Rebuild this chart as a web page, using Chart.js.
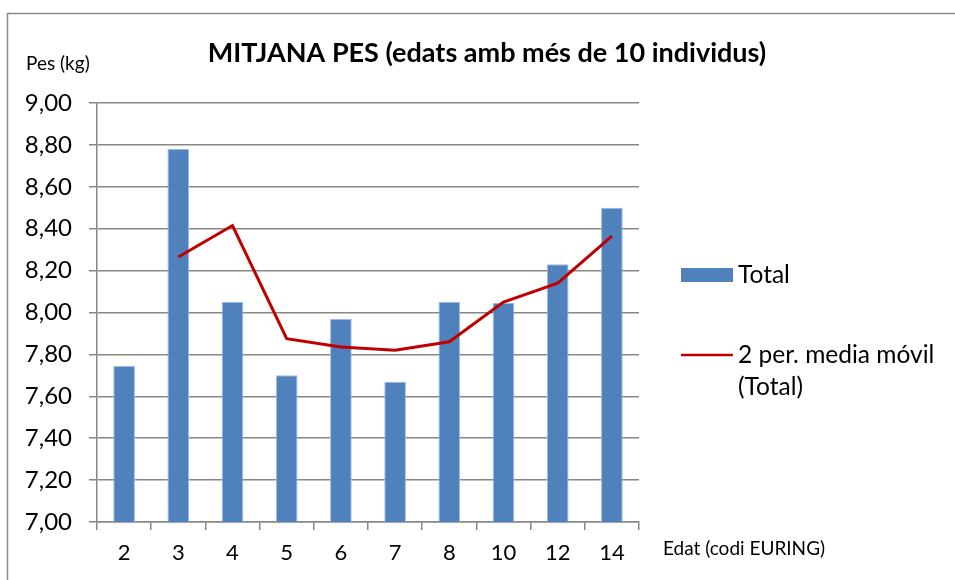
<!DOCTYPE html>
<html>
<head>
<meta charset="utf-8">
<script src="https://cdn.jsdelivr.net/npm/chart.js@4.4.1/dist/chart.umd.min.js"></script>
<style>
    html, body { margin: 0; padding: 0; background: #ffffff; }
    #wrap { width: 955px; height: 580px; position: relative; }
</style>
</head>
<body>
<div id="wrap"><canvas id="pes-chart"></canvas></div>
<script>
// Dades llegides del gràfic
const edats = ['2', '3', '4', '5', '6', '7', '8', '10', '12', '14'];
const pesTotal = [7.745, 8.78, 8.05, 7.70, 7.97, 7.67, 8.05, 8.045, 8.23, 8.50];
const mitjanaMobil = [null, 8.265, 8.415, 7.875, 7.835, 7.82, 7.86, 8.05, 8.14, 8.365];
const yTicks = [7.0, 7.2, 7.4, 7.6, 7.8, 8.0, 8.2, 8.4, 8.6, 8.8, 9.0];

const FONT = 'Lato, "Open Sans", sans-serif';
const GRID = '#878787';

/**
 * Marc, títols i llegenda a l'estil Excel
 */
const decor = {
    id: 'decor',
    beforeDraw(chart) {
        const ctx = chart.ctx;
        ctx.save();
        ctx.strokeStyle = '#8a8a8a';
        ctx.lineWidth = 1.5;
        ctx.strokeRect(7.5, 13.5, 1200, 1200);
        ctx.restore();
    },
    afterDraw(chart) {
        const ctx = chart.ctx;
        ctx.save();
        ctx.fillStyle = '#000000';
        ctx.textBaseline = 'middle';

        // títol
        ctx.font = 'bold 27px ' + FONT;
        ctx.textAlign = 'center';
        ctx.fillText('MITJANA PES (edats amb més de 10 individus)', 487, 53);

        // títols dels eixos
        ctx.font = '19px ' + FONT;
        ctx.textAlign = 'left';
        ctx.fillText('Pes (kg)', 26, 64);
        ctx.fillText('Edat (codi EURING)', 663, 549);

        // llegenda
        const rows = [275, 355];
        chart.data.datasets.forEach((ds, i) => {
            const y = rows[i];
            if (ds.type === 'line') {
                ctx.strokeStyle = ds.borderColor;
                ctx.lineWidth = 2.5;
                ctx.beginPath();
                ctx.moveTo(681, y);
                ctx.lineTo(733, y);
                ctx.stroke();
            } else {
                ctx.fillStyle = ds.backgroundColor;
                ctx.fillRect(681, y - 7, 52, 14);
            }
            ctx.fillStyle = '#000000';
            ctx.font = '24.5px ' + FONT;
            // ajust de línia simple
            const words = ds.label.split(' ');
            const lines = [];
            let cur = '';
            words.forEach(w => {
                const t = cur ? cur + ' ' + w : w;
                if (ctx.measureText(t).width > 210 && cur) {
                    lines.push(cur);
                    cur = w;
                } else {
                    cur = t;
                }
            });
            lines.push(cur);
            lines.forEach((l, k) => ctx.fillText(l, 738, y + k * 32));
        });
        ctx.restore();
    }
};

const ctx = document.getElementById('pes-chart');

new Chart(ctx, {
    type: 'bar',
    data: {
        labels: edats,
        datasets: [{
            type: 'bar',
            label: 'Total',
            data: pesTotal,
            backgroundColor: '#4F81BD',
            borderColor: '#9dbbe0',
            borderWidth: 1,
            barPercentage: 0.4,
            categoryPercentage: 1.0,
            order: 1
        }, {
            type: 'line',
            label: '2 per. media móvil (Total)',
            data: mitjanaMobil,
            borderColor: '#C00000',
            borderWidth: 3,
            pointRadius: 0,
            tension: 0,
            fill: false,
            order: 0
        }]
    },
    options: {
        responsive: true,
        maintainAspectRatio: false,
        animation: false,
        layout: {
            padding: { left: 0, right: 316, top: 103, bottom: 0 }
        },
        plugins: {
            legend: { display: false },
            title: { display: false },
            tooltip: { enabled: false }
        },
        scales: {
            y: {
                min: 7,
                max: 9,
                afterFit: scale => { scale.width = 97; },
                afterBuildTicks: scale => {
                    scale.ticks = yTicks.map(v => ({ value: v }));
                },
                ticks: {
                    color: '#000000',
                    padding: 17,
                    font: { family: FONT, size: 24 },
                    callback: v => v.toFixed(2).replace('.', ',')
                },
                grid: {
                    color: GRID,
                    lineWidth: 1.5,
                    tickLength: 8
                },
                border: { color: GRID, width: 1.5 }
            },
            x: {
                afterFit: scale => { scale.height = 58; },
                ticks: {
                    color: '#000000',
                    padding: 10,
                    font: { family: FONT, size: 22 }
                },
                grid: {
                    drawOnChartArea: false,
                    color: GRID,
                    lineWidth: 1.5,
                    tickLength: 8
                },
                border: { color: GRID, width: 1.5 }
            }
        }
    },
    plugins: [decor]
});
</script>
</body>
</html>
